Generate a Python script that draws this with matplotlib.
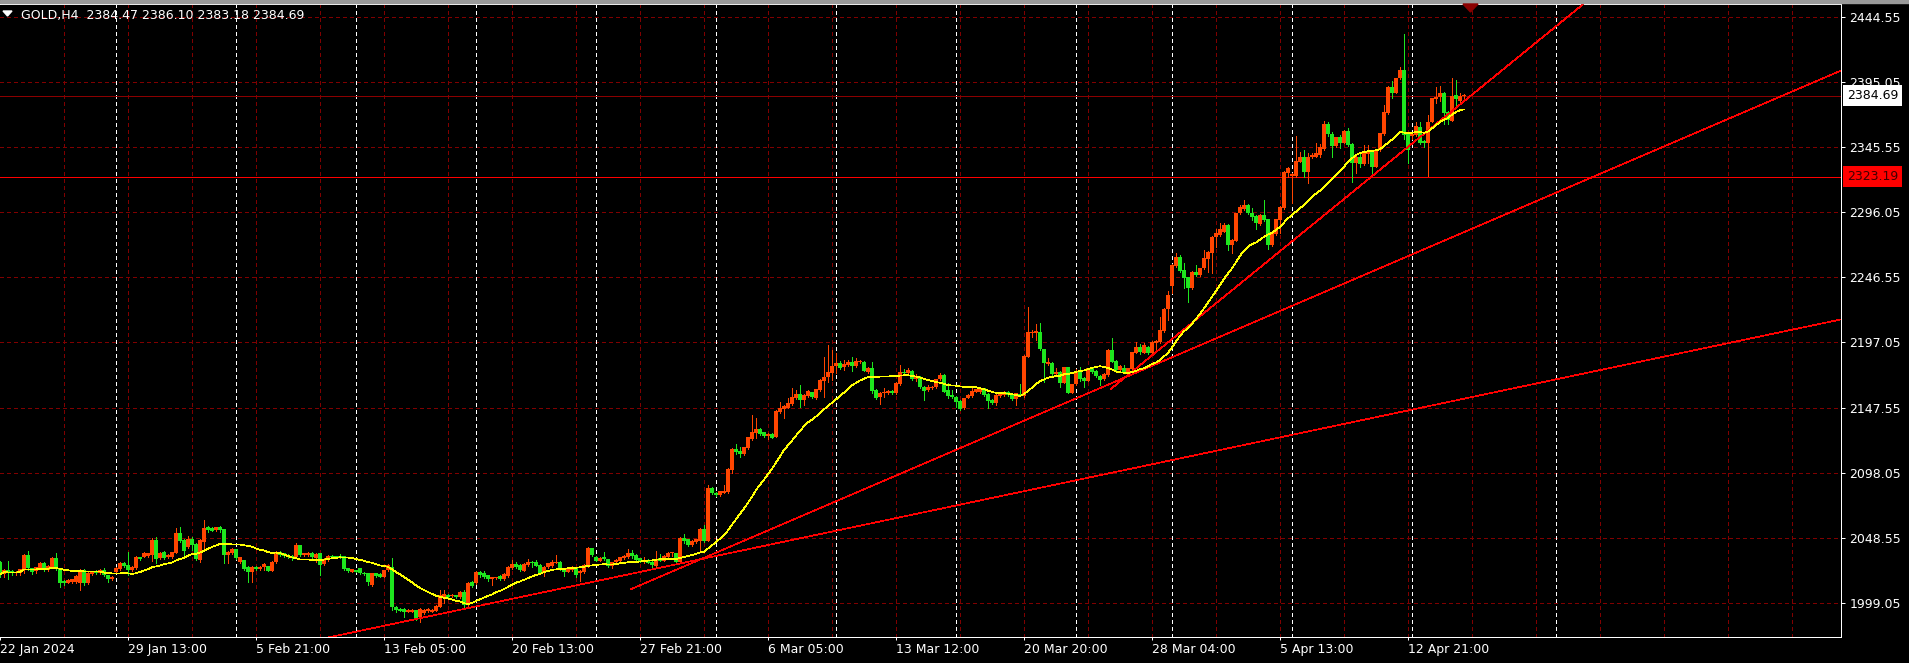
import matplotlib
matplotlib.use('Agg')
import matplotlib.pyplot as plt
from matplotlib.patches import Polygon, Rectangle
import numpy as np
import pandas as pd


# Velas H4 de GOLD (precios)
opens = [
    2030.4, 2021.0, 2024.0, 2023.5, 2021.6, 2021.6, 2024.0, 2035.5, 2025.4, 2023.0,
    2025.9, 2029.7, 2024.1, 2026.6, 2033.5, 2025.0, 2016.0, 2014.5, 2015.0, 2015.3,
    2014.0, 2024.1, 2014.0, 2021.0, 2023.5, 2021.6, 2024.1, 2020.3, 2017.0, 2022.9,
    2025.0, 2029.7, 2027.9, 2024.1, 2025.4, 2033.7, 2034.2, 2034.7, 2035.5, 2046.9,
    2033.0, 2037.5, 2033.7, 2034.2, 2037.3, 2052.0, 2046.9, 2041.8, 2047.4, 2043.9,
    2031.7, 2045.6, 2056.5, 2055.8, 2054.5, 2057.0, 2055.0, 2035.5, 2036.8, 2039.8,
    2030.4, 2031.7, 2026.6, 2022.9, 2026.6, 2024.9, 2026.6, 2027.2, 2023.6, 2030.4,
    2038.0, 2036.8, 2035.5, 2035.0, 2033.7, 2043.1, 2035.5, 2035.5, 2037.3, 2033.0,
    2036.8, 2028.7, 2031.7, 2034.7, 2034.7, 2035.0, 2034.7, 2025.4, 2022.9, 2024.1,
    2025.4, 2022.0, 2021.6, 2012.7, 2021.6, 2021.1, 2019.1, 2024.1, 2026.6, 1996.2,
    1994.2, 1994.2, 1992.5, 1992.5, 1993.7, 1988.6, 1991.2, 1992.7, 1992.5, 1993.2,
    1996.2, 2003.9, 2005.1, 2004.5, 2005.1, 2003.4, 2007.7, 1997.6, 2015.3, 2014.5,
    2022.6, 2022.0, 2020.0, 2017.5, 2018.0, 2019.6, 2017.3, 2019.8, 2025.7, 2028.7,
    2027.9, 2023.6, 2028.0, 2030.5, 2030.5, 2027.9, 2021.6, 2026.2, 2027.2, 2029.7,
    2030.2, 2025.4, 2022.9, 2024.1, 2025.4, 2021.6, 2022.9, 2027.2, 2040.6, 2034.2,
    2031.2, 2033.7, 2032.2, 2027.2, 2030.0, 2031.2, 2033.0, 2033.7, 2036.8, 2035.5,
    2033.0, 2030.5, 2031.7, 2030.5, 2027.2, 2033.0, 2031.2, 2034.2, 2036.8, 2036.8,
    2030.5, 2048.7, 2047.4, 2043.1, 2045.6, 2046.4, 2055.3, 2046.4, 2086.7, 2083.0,
    2081.1, 2082.9, 2083.2, 2100.1, 2116.1, 2114.8, 2112.3, 2116.6, 2123.7, 2128.5,
    2131.3, 2128.8, 2126.0, 2127.5, 2125.5, 2144.5, 2146.5, 2147.5, 2150.3, 2154.6,
    2157.9, 2153.4, 2156.6, 2159.2, 2154.6, 2160.9, 2167.8, 2170.6, 2174.1, 2179.2,
    2181.2, 2178.2, 2179.9, 2182.5, 2179.2, 2182.0, 2182.5, 2174.9, 2177.4, 2160.9,
    2155.4, 2158.4, 2158.9, 2160.4, 2158.4, 2165.5, 2174.9, 2173.6, 2175.6, 2169.0,
    2171.1, 2163.0, 2160.9, 2162.2, 2163.0, 2169.0, 2172.3, 2160.9, 2157.2, 2155.9,
    2152.9, 2147.0, 2155.1, 2156.4, 2159.7, 2159.7, 2162.2, 2158.0, 2153.4, 2151.3,
    2156.4, 2157.2, 2159.7, 2158.0, 2154.4, 2158.0, 2156.4, 2186.3, 2204.0, 2204.5,
    2205.3, 2191.9, 2180.7, 2181.7, 2173.1, 2175.0, 2166.5, 2178.2, 2158.9, 2165.3,
    2174.9, 2170.3, 2168.0, 2177.4, 2175.4, 2171.6, 2169.0, 2172.4, 2191.4, 2183.2,
    2176.1, 2177.4, 2174.4, 2176.9, 2189.3, 2193.9, 2189.3, 2193.9, 2189.3, 2196.9,
    2197.7, 2206.0, 2222.3, 2240.0, 2255.2, 2262.3, 2252.2, 2246.6, 2238.2, 2250.9,
    2248.4, 2253.5, 2260.3, 2264.9, 2277.5, 2278.8, 2281.3, 2286.4, 2271.2, 2274.4,
    2295.2, 2298.5, 2301.6, 2295.7, 2293.2, 2287.1, 2294.0, 2290.7, 2271.2, 2279.5,
    2290.2, 2299.0, 2326.1, 2323.9, 2323.6, 2334.5, 2338.3, 2326.9, 2337.8, 2338.3,
    2339.6, 2343.9, 2363.1, 2355.5, 2346.4, 2353.0, 2348.9, 2357.8, 2347.9, 2333.2,
    2338.3, 2332.7, 2340.3, 2342.1, 2330.7, 2343.4, 2355.5, 2371.2, 2391.5, 2386.9,
    2397.8, 2404.2, 2356.0, 2354.0, 2354.8, 2361.1, 2350.4, 2348.4, 2364.9, 2381.9,
    2383.4, 2386.9, 2372.5, 2365.6, 2385.1, 2380.8, 2384.47]

highs = [
    2031.0, 2025.0, 2031.0, 2024.0, 2023.0, 2025.0, 2036.0, 2038.5, 2026.0, 2026.5,
    2030.5, 2030.0, 2028.0, 2034.0, 2037.3, 2025.5, 2016.5, 2017.0, 2017.5, 2020.5,
    2025.0, 2025.0, 2022.5, 2023.5, 2024.0, 2024.6, 2026.0, 2020.5, 2019.5, 2026.5,
    2030.5, 2030.0, 2037.8, 2027.0, 2034.5, 2034.0, 2037.5, 2037.0, 2048.2, 2049.5,
    2038.0, 2038.8, 2036.0, 2038.0, 2055.8, 2057.0, 2047.5, 2050.0, 2049.5, 2044.5,
    2047.5, 2062.1, 2057.8, 2056.5, 2057.0, 2057.5, 2055.5, 2038.5, 2040.5, 2040.0,
    2034.0, 2032.0, 2027.0, 2027.0, 2027.0, 2027.0, 2029.5, 2027.5, 2031.0, 2038.5,
    2038.5, 2037.0, 2036.0, 2035.5, 2044.4, 2043.5, 2037.0, 2037.5, 2037.8, 2037.0,
    2037.3, 2033.0, 2035.5, 2035.5, 2035.0, 2036.0, 2035.0, 2026.0, 2025.0, 2024.5,
    2026.0, 2022.5, 2022.0, 2022.0, 2022.0, 2021.5, 2024.5, 2028.5, 2033.0, 1996.5,
    1995.0, 1995.0, 1994.5, 1994.5, 1994.0, 1995.0, 1994.5, 1995.0, 1994.5, 1997.3,
    2008.9, 2008.9, 2006.0, 2006.0, 2005.5, 2008.2, 2008.9, 2015.3, 2016.0, 2023.5,
    2023.6, 2023.6, 2020.5, 2019.0, 2019.0, 2020.0, 2021.5, 2027.3, 2031.7, 2030.0,
    2028.5, 2029.7, 2032.6, 2031.2, 2031.7, 2028.5, 2027.3, 2029.7, 2031.7, 2035.5,
    2030.7, 2025.9, 2026.0, 2027.4, 2025.9, 2024.1, 2028.5, 2041.6, 2041.1, 2034.7,
    2034.0, 2037.6, 2032.7, 2030.5, 2032.5, 2034.2, 2035.3, 2040.1, 2039.3, 2036.0,
    2033.5, 2033.7, 2032.2, 2031.0, 2038.6, 2036.0, 2035.3, 2037.8, 2038.0, 2037.3,
    2049.2, 2051.2, 2047.9, 2046.7, 2048.0, 2056.0, 2058.3, 2088.5, 2087.3, 2083.5,
    2084.5, 2088.7, 2101.4, 2116.6, 2119.9, 2117.9, 2117.9, 2125.5, 2142.0, 2139.4,
    2131.8, 2129.3, 2128.0, 2128.0, 2145.5, 2152.0, 2149.3, 2154.6, 2162.2, 2161.0,
    2164.7, 2157.7, 2160.7, 2159.7, 2161.9, 2169.0, 2186.3, 2195.1, 2191.3, 2188.8,
    2183.0, 2183.7, 2184.0, 2185.8, 2185.0, 2183.7, 2183.0, 2178.7, 2182.5, 2161.4,
    2159.4, 2162.2, 2161.0, 2161.0, 2167.0, 2179.9, 2176.6, 2177.4, 2176.1, 2173.1,
    2171.6, 2164.0, 2164.7, 2164.0, 2169.5, 2173.6, 2172.8, 2166.0, 2160.9, 2156.4,
    2153.4, 2155.1, 2157.7, 2162.2, 2162.0, 2163.0, 2162.7, 2158.5, 2154.0, 2157.7,
    2159.0, 2160.4, 2160.2, 2158.5, 2159.0, 2165.3, 2187.3, 2223.8, 2206.6, 2211.1,
    2211.6, 2192.4, 2185.0, 2182.2, 2177.4, 2175.5, 2178.7, 2178.7, 2165.8, 2176.7,
    2178.2, 2170.8, 2177.9, 2178.7, 2175.9, 2172.1, 2173.6, 2191.9, 2200.2, 2183.7,
    2179.7, 2179.9, 2177.9, 2190.1, 2197.7, 2195.7, 2196.4, 2194.4, 2198.2, 2199.0,
    2216.7, 2223.5, 2236.5, 2256.5, 2265.3, 2263.6, 2257.7, 2247.1, 2251.4, 2256.0,
    2254.0, 2267.4, 2266.6, 2278.0, 2283.0, 2288.1, 2288.1, 2286.9, 2275.5, 2295.7,
    2301.6, 2305.4, 2302.1, 2299.0, 2293.7, 2294.5, 2305.4, 2291.2, 2280.5, 2291.2,
    2300.8, 2327.4, 2330.7, 2325.5, 2354.0, 2342.1, 2343.4, 2341.3, 2341.3, 2348.4,
    2347.9, 2365.4, 2364.9, 2357.0, 2353.5, 2354.8, 2358.3, 2359.8, 2348.4, 2339.6,
    2342.1, 2347.2, 2347.2, 2342.6, 2343.9, 2356.5, 2377.6, 2392.0, 2395.8, 2398.3,
    2406.7, 2431.5, 2356.5, 2356.0, 2364.9, 2364.9, 2351.0, 2370.0, 2383.1, 2391.5,
    2392.0, 2387.4, 2373.0, 2397.8, 2396.6, 2386.4, 2386.10]

lows = [
    2019.0, 2019.0, 2017.0, 2020.5, 2020.0, 2020.0, 2022.0, 2024.0, 2021.0, 2022.0,
    2025.0, 2023.5, 2023.5, 2026.0, 2024.0, 2011.5, 2012.7, 2014.0, 2014.5, 2014.5,
    2008.9, 2013.0, 2013.5, 2020.5, 2021.0, 2021.0, 2019.5, 2015.3, 2016.5, 2022.5,
    2024.5, 2026.5, 2020.3, 2023.5, 2025.0, 2031.7, 2033.7, 2034.0, 2031.2, 2029.2,
    2032.5, 2032.5, 2033.0, 2033.5, 2036.8, 2045.6, 2034.2, 2040.5, 2039.3, 2031.7,
    2030.4, 2039.3, 2053.2, 2053.5, 2054.0, 2053.2, 2029.2, 2029.2, 2036.0, 2032.5,
    2029.5, 2024.0, 2015.3, 2015.3, 2024.0, 2024.5, 2024.1, 2023.0, 2023.0, 2029.5,
    2035.0, 2034.0, 2033.0, 2031.7, 2033.0, 2035.0, 2035.0, 2034.5, 2033.0, 2030.4,
    2020.3, 2028.0, 2031.0, 2033.0, 2033.0, 2033.0, 2024.0, 2022.9, 2022.5, 2022.5,
    2021.0, 2020.5, 2012.7, 2012.0, 2019.0, 2018.5, 2018.5, 2023.5, 1993.7, 1992.5,
    1992.7, 1988.6, 1992.0, 1992.0, 1986.5, 1984.9, 1990.5, 1992.0, 1992.0, 1992.7,
    1995.7, 1998.8, 2003.0, 2003.5, 2003.0, 2003.0, 1996.3, 1996.9, 2011.5, 2013.5,
    2018.6, 2018.0, 2016.0, 2012.7, 2017.5, 2016.5, 2016.8, 2019.0, 2025.0, 2025.4,
    2023.5, 2023.0, 2027.5, 2026.2, 2026.9, 2021.0, 2019.6, 2025.7, 2026.7, 2029.2,
    2024.0, 2019.6, 2022.4, 2023.6, 2018.6, 2016.0, 2022.0, 2026.7, 2035.0, 2030.7,
    2030.7, 2031.7, 2026.7, 2025.4, 2029.5, 2030.7, 2032.5, 2033.2, 2033.5, 2031.2,
    2030.0, 2029.2, 2029.2, 2024.6, 2026.7, 2030.7, 2030.7, 2033.7, 2034.8, 2030.0,
    2029.7, 2044.4, 2042.6, 2042.6, 2045.0, 2038.8, 2045.6, 2046.0, 2081.9, 2080.6,
    2080.6, 2082.4, 2082.7, 2097.6, 2112.6, 2110.3, 2111.8, 2116.0, 2123.0, 2124.2,
    2126.7, 2125.0, 2123.5, 2124.2, 2125.0, 2143.5, 2139.4, 2147.0, 2149.8, 2154.0,
    2147.8, 2149.5, 2156.0, 2154.6, 2154.0, 2160.4, 2155.9, 2167.3, 2168.5, 2173.6,
    2176.6, 2176.1, 2179.4, 2175.6, 2178.7, 2181.2, 2175.1, 2173.6, 2158.4, 2153.8,
    2150.3, 2155.9, 2158.0, 2157.9, 2157.9, 2164.5, 2172.3, 2173.0, 2168.5, 2168.0,
    2162.5, 2153.3, 2160.4, 2161.7, 2162.5, 2168.5, 2159.2, 2154.6, 2154.6, 2148.3,
    2146.0, 2146.5, 2154.6, 2155.9, 2159.2, 2158.4, 2156.6, 2147.0, 2150.3, 2149.5,
    2156.0, 2156.6, 2156.6, 2153.4, 2149.5, 2156.4, 2155.9, 2185.8, 2201.5, 2199.0,
    2191.4, 2167.3, 2180.0, 2172.6, 2172.6, 2163.0, 2166.0, 2158.4, 2158.4, 2164.8,
    2168.0, 2163.5, 2167.5, 2174.1, 2171.1, 2165.0, 2168.5, 2171.9, 2182.0, 2175.6,
    2175.6, 2173.6, 2173.9, 2176.4, 2188.8, 2188.3, 2188.8, 2188.3, 2188.8, 2191.4,
    2197.0, 2205.0, 2214.2, 2234.5, 2254.7, 2251.0, 2238.2, 2228.1, 2237.7, 2247.9,
    2247.9, 2253.0, 2250.9, 2250.1, 2270.0, 2278.3, 2280.8, 2267.4, 2265.3, 2273.9,
    2294.7, 2298.0, 2294.7, 2290.2, 2283.1, 2286.6, 2289.7, 2267.9, 2270.7, 2279.0,
    2280.0, 2298.5, 2323.1, 2302.8, 2323.0, 2334.0, 2322.6, 2318.5, 2337.0, 2337.8,
    2338.0, 2343.4, 2354.0, 2337.8, 2345.9, 2344.6, 2348.4, 2346.7, 2319.3, 2325.6,
    2330.7, 2332.2, 2333.2, 2324.4, 2330.2, 2342.9, 2355.0, 2370.7, 2382.6, 2386.4,
    2397.3, 2352.0, 2333.7, 2352.0, 2354.0, 2347.9, 2346.0, 2323.6, 2364.4, 2379.3,
    2380.8, 2363.1, 2363.1, 2365.1, 2377.6, 2380.1, 2383.18]

closes = [
    2021.0, 2024.0, 2022.0, 2021.6, 2022.5, 2024.6, 2035.8, 2025.4, 2022.9, 2026.1,
    2029.7, 2024.1, 2027.2, 2033.5, 2024.6, 2014.5, 2014.0, 2016.5, 2017.0, 2019.8,
    2024.1, 2014.0, 2021.6, 2022.9, 2021.6, 2024.1, 2020.3, 2017.0, 2019.1, 2025.9,
    2029.7, 2027.2, 2024.1, 2026.6, 2033.7, 2032.2, 2036.8, 2036.8, 2046.9, 2032.2,
    2037.3, 2033.0, 2035.5, 2037.5, 2052.0, 2046.4, 2038.8, 2047.4, 2043.1, 2032.2,
    2046.9, 2055.8, 2054.5, 2054.0, 2056.5, 2054.5, 2035.5, 2038.0, 2039.8, 2033.5,
    2033.7, 2024.6, 2022.9, 2026.6, 2024.9, 2026.6, 2028.7, 2023.6, 2030.4, 2038.0,
    2035.5, 2034.7, 2033.7, 2033.0, 2043.1, 2035.5, 2036.8, 2036.8, 2033.7, 2036.3,
    2027.9, 2032.2, 2034.7, 2033.7, 2033.5, 2033.5, 2024.6, 2023.6, 2024.6, 2022.9,
    2021.6, 2021.1, 2015.3, 2021.6, 2019.6, 2019.1, 2024.1, 2027.9, 1995.7, 1993.7,
    1993.2, 1992.5, 1993.7, 1993.7, 1987.4, 1994.2, 1993.7, 1994.2, 1993.7, 1996.7,
    2005.1, 2005.6, 2003.9, 2005.1, 2003.4, 2007.7, 1997.6, 2014.0, 2012.2, 2022.9,
    2020.4, 2018.6, 2017.0, 2018.5, 2018.5, 2017.0, 2020.9, 2026.7, 2028.7, 2026.7,
    2024.1, 2028.7, 2030.5, 2029.7, 2027.4, 2021.6, 2026.7, 2029.2, 2030.5, 2030.2,
    2024.6, 2022.9, 2025.4, 2025.9, 2020.4, 2023.6, 2028.0, 2041.1, 2035.5, 2031.2,
    2033.5, 2032.5, 2027.2, 2030.0, 2031.7, 2033.7, 2034.8, 2037.3, 2034.8, 2031.7,
    2030.5, 2031.7, 2029.7, 2028.0, 2032.2, 2031.2, 2034.8, 2037.3, 2037.3, 2030.5,
    2048.7, 2046.4, 2043.1, 2046.2, 2047.4, 2055.3, 2046.4, 2086.7, 2082.4, 2081.1,
    2084.0, 2084.4, 2100.9, 2116.1, 2113.6, 2112.3, 2117.4, 2125.0, 2129.3, 2131.6,
    2127.2, 2126.0, 2127.5, 2124.7, 2145.0, 2147.5, 2148.8, 2151.3, 2155.9, 2157.9,
    2153.4, 2157.2, 2160.2, 2155.9, 2161.4, 2168.5, 2171.1, 2174.9, 2179.4, 2181.2,
    2177.4, 2180.7, 2182.5, 2179.2, 2183.0, 2183.0, 2175.6, 2177.4, 2160.2, 2155.1,
    2158.9, 2159.7, 2160.4, 2158.4, 2166.5, 2174.9, 2173.6, 2176.1, 2169.0, 2171.6,
    2163.0, 2160.4, 2163.5, 2163.5, 2169.0, 2172.3, 2159.7, 2156.4, 2155.9, 2152.1,
    2146.5, 2154.6, 2157.2, 2160.4, 2161.4, 2161.4, 2157.2, 2152.9, 2150.8, 2157.2,
    2158.4, 2159.7, 2157.2, 2153.9, 2158.4, 2157.0, 2186.8, 2205.3, 2205.3, 2206.0,
    2191.9, 2181.2, 2182.5, 2173.1, 2174.9, 2166.5, 2178.2, 2158.9, 2165.3, 2175.4,
    2169.3, 2168.0, 2177.4, 2174.9, 2171.6, 2168.5, 2173.1, 2191.4, 2182.5, 2176.1,
    2179.2, 2174.1, 2177.4, 2189.6, 2193.9, 2189.6, 2195.2, 2188.8, 2197.7, 2198.4,
    2206.6, 2222.5, 2233.2, 2256.0, 2262.3, 2251.6, 2245.8, 2238.2, 2250.9, 2248.4,
    2253.5, 2261.1, 2266.1, 2277.5, 2280.0, 2283.1, 2286.4, 2271.2, 2275.0, 2295.2,
    2300.3, 2301.6, 2295.2, 2292.7, 2287.6, 2294.0, 2290.2, 2271.2, 2280.0, 2290.7,
    2300.3, 2326.9, 2329.9, 2324.9, 2335.0, 2338.3, 2326.9, 2338.3, 2339.6, 2340.8,
    2345.4, 2363.1, 2355.5, 2346.4, 2353.0, 2348.9, 2357.8, 2347.2, 2333.2, 2337.8,
    2332.7, 2341.3, 2341.6, 2330.7, 2343.4, 2356.0, 2372.5, 2391.5, 2386.9, 2397.8,
    2404.2, 2354.8, 2343.4, 2355.5, 2361.6, 2348.4, 2348.4, 2364.9, 2382.6, 2383.9,
    2386.9, 2371.7, 2366.2, 2384.4, 2381.9, 2384.4, 2384.69]

# Ejes: precios de la escala derecha y fechas de abajo
price_ticks = [1999.05, 2048.55, 2098.05, 2147.55, 2197.05, 2246.55,
               2296.05, 2345.55, 2395.05, 2444.55]
date_bars = [0, 32, 64, 96, 128, 160, 192, 224, 256, 288, 320, 352]
date_labels = ['22 Jan 2024', '29 Jan 13:00', '5 Feb 21:00', '13 Feb 05:00',
               '20 Feb 13:00', '27 Feb 21:00', '6 Mar 05:00', '13 Mar 12:00',
               '20 Mar 20:00', '28 Mar 04:00', '5 Apr 13:00', '12 Apr 21:00']
week_starts = [29, 59, 89, 119, 149, 179, 209, 239, 269, 293, 323, 353, 389]

# Lineas de tendencia (barra, precio) y niveles
trend_start = [80, 157.7, 277.7]
trend_p1 = [(110, 1990.7), (157.7, 2009.5), (277.7, 2161.7)]
trend_p2 = [(237.5, 2072.2), (460.25, 2403.7), (335.8, 2305.6)]
level_red = 2323.19
last_price = 2384.69
header = 'GOLD,H4  2384.47 2386.10 2383.18 2384.69'


#Colores
up_col = '#FF4500'
down_col = '#1EE61E'
grid_col = '#800000'
px = 0.72  # 1 pixel en puntos
thin = 0.5

W, H = 1909, 663
fig = plt.figure(figsize=(W / 100, H / 100), dpi=100, facecolor='black')
ax = fig.add_axes([0, (H - 637) / H, 1841 / W, (637 - 3.5) / H])
ax.set_facecolor('black')
ax.set_xlim(0, 1841 / 4)
ax.set_ylim(1973.21, 2454.70)

# Rejilla
for b in np.arange(16, 461, 16):
    ax.axvline(b, color=grid_col, lw=px, ls=(0, (4, 3)), antialiased=False, zorder=1)
for p in price_ticks:
    ax.axhline(p, color=grid_col, lw=px, ls=(0, (4, 3)), antialiased=False, zorder=1)
for w in week_starts:
    ax.axvline(w, color='white', lw=px, ls=(0, (3, 3)), antialiased=False, zorder=1.5)

# Niveles horizontales
ax.axhline(last_price, color='#8B0000', lw=px, antialiased=False, zorder=1.6)
ax.axhline(level_red, color='#FF0000', lw=px, antialiased=False, zorder=1.6)

# Velas
o = np.array(opens)
h = np.array(highs)
l = np.array(lows)
c = np.array(closes)
x = np.arange(len(c))
cols = np.where(c >= o, up_col, down_col)
ax.vlines(x, l, h, colors=cols, lw=px, antialiased=False, zorder=3)
body_lo = np.minimum(o, c)
body_h = np.maximum(np.abs(c - o), 0.8)
ax.bar(x, body_h, bottom=body_lo, width=0.78, color=cols, linewidth=0,
       antialiased=False, zorder=3)

# Media movil
ma = pd.Series(c).rolling(20, min_periods=1).mean()
ax.plot(x, ma, color='#FFFF00', lw=thin, antialiased=False, zorder=5)

# Lineas de tendencia (rayos hacia la derecha)
for s, p1, p2 in zip(trend_start, trend_p1, trend_p2):
    m = (p2[1] - p1[1]) / (p2[0] - p1[0])
    xs = np.array([s, 470])
    ax.plot(xs, p1[1] + m * (xs - p1[0]), color='#FF0000', lw=thin,
            antialiased=False, zorder=4)

# Ejes
ax.yaxis.tick_right()
ax.set_yticks(price_ticks)
ax.set_yticklabels(['%.2f' % p for p in price_ticks])
ax.tick_params(axis='y', colors='white', length=3, width=px, pad=3, labelsize=9)
ax.set_xticks(date_bars)
ax.set_xticklabels(date_labels, ha='left')
ax.tick_params(axis='x', colors='white', length=2.2, width=px, pad=2, labelsize=9)
for side in ['top', 'right', 'bottom']:
    ax.spines[side].set_color('white')
    ax.spines[side].set_linewidth(px)
ax.spines['left'].set_visible(False)

# Etiquetas de precio resaltadas
ytr = ax.get_yaxis_transform()
ax.text(1 + 6 / 1841, last_price, '%.2f' % last_price, transform=ytr,
        color='black', fontsize=9, va='center', ha='left', clip_on=False, zorder=6,
        bbox=dict(boxstyle='square,pad=0.3', fc='white', ec='none'))
ax.text(1 + 6 / 1841, level_red, '%.2f' % level_red, transform=ytr,
        color='#400000', fontsize=9, va='center', ha='left', clip_on=False, zorder=6,
        bbox=dict(boxstyle='square,pad=0.3', fc='#FF0000', ec='none'))

# Cabecera y marcas
fig.add_artist(Rectangle((0, 1 - 2.5 / H), 1, 2.5 / H, transform=fig.transFigure,
                         color='#9A9A9A', zorder=10))
tri = [(3, 11), (12, 11), (7.5, 16)]
fig.add_artist(Polygon([(a / W, 1 - b / H) for a, b in tri], closed=True,
                       transform=fig.transFigure, color='white', zorder=10))
shift = [(1463, 4), (1478, 4), (1470.5, 12)]
fig.add_artist(Polygon([(a / W, 1 - b / H) for a, b in shift], closed=True,
                       transform=fig.transFigure, color='#8B0000', zorder=10))
fig.text(21 / W, 1 - 15 / H, header, color='white', fontsize=9, va='center', ha='left')

fig.savefig('out.png', dpi=100, facecolor='black')
